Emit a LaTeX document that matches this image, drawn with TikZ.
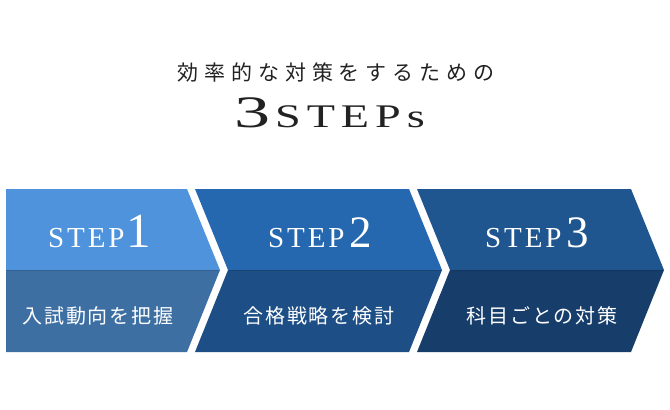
\documentclass[tikz,border=0pt]{standalone}
\usepackage{fontspec}
\newfontfamily\jptitle[LetterSpace=28]{Noto Sans CJK JP}
\newfontfamily\stepfont[LetterSpace=10]{Liberation Serif}
\newfontfamily\bigfont[FakeStretch=1.4,LetterSpace=18]{Liberation Serif}
\newfontfamily\bigthree[FakeStretch=1.6]{Liberation Serif}
\newfontfamily\digitfont{Liberation Serif}
\newfontfamily\jplabel[LetterSpace=9]{Noto Sans CJK JP}
\definecolor{cAt}{RGB}{78,147,219}
\definecolor{cAb}{RGB}{61,111,163}
\definecolor{cBt}{RGB}{37,104,176}
\definecolor{cBb}{RGB}{29,79,134}
\definecolor{cCt}{RGB}{31,86,143}
\definecolor{cCb}{RGB}{23,61,106}
\definecolor{ink}{RGB}{34,34,34}
\tikzset{
  steplabel/.style={inner sep=0pt, anchor=base west, text=white},
  jplab/.style={inner sep=0pt, text=white},
  seam/.style={line width=0.8pt, draw=black, draw opacity=0.12}
}
\begin{document}
\begin{tikzpicture}[x=1pt,y=-1pt]
\useasboundingbox (0,0) rectangle (670,410);
\fill[white] (0,0) rectangle (670,410);
% title
\node[inner sep=0pt, text=ink] (sub) at (336,72.5) {\jptitle\fontsize{21}{24}\selectfont 効率的な対策をするための};
\node[inner sep=0pt, anchor=base west, text=ink] (big) at (234,127) {\bigthree\fontsize{45}{48}\selectfont 3\kern 5pt\bigfont\fontsize{33}{36}\selectfont STEPs};
% chevron 1
\fill[cAt] (6,189) -- (187,189) -- (220,270) -- (6,270) -- cycle;
\fill[cAb] (6,270) -- (220,270) -- (187,352) -- (6,352) -- cycle;
\draw[seam] (6,270) -- (219,270);
% chevron 2
\fill[cBt] (195,189) -- (409,189) -- (442,270) -- (228,270) -- cycle;
\fill[cBb] (228,270) -- (442,270) -- (409,352) -- (195,352) -- cycle;
\draw[seam] (229,270) -- (441,270);
% chevron 3
\fill[cCt] (417,189) -- (631,189) -- (664,270) -- (450,270) -- cycle;
\fill[cCb] (450,270) -- (664,270) -- (631,352) -- (417,352) -- cycle;
\draw[seam] (451,270) -- (663,270);
% step labels
\node[steplabel] (s1) at (48,247.5) {\stepfont\fontsize{29}{32}\selectfont STEP\kern 2pt\digitfont\fontsize{49}{52}\selectfont 1};
\node[steplabel] (s2) at (268,247.5) {\stepfont\fontsize{29}{32}\selectfont STEP\kern 5pt\digitfont\fontsize{45}{52}\selectfont 2};
\node[steplabel] (s3) at (485,247.5) {\stepfont\fontsize{29}{32}\selectfont STEP\kern 5pt\digitfont\fontsize{45}{52}\selectfont 3};
% japanese labels
\node[jplab] (l1) at (98,316) {\jplabel\fontsize{20}{22}\selectfont 入試動向を把握};
\node[jplab] (l2) at (319,316) {\jplabel\fontsize{20}{22}\selectfont 合格戦略を検討};
\node[jplab] (l3) at (542,316) {\jplabel\fontsize{20}{22}\selectfont 科目ごとの対策};
\end{tikzpicture}
\end{document}
